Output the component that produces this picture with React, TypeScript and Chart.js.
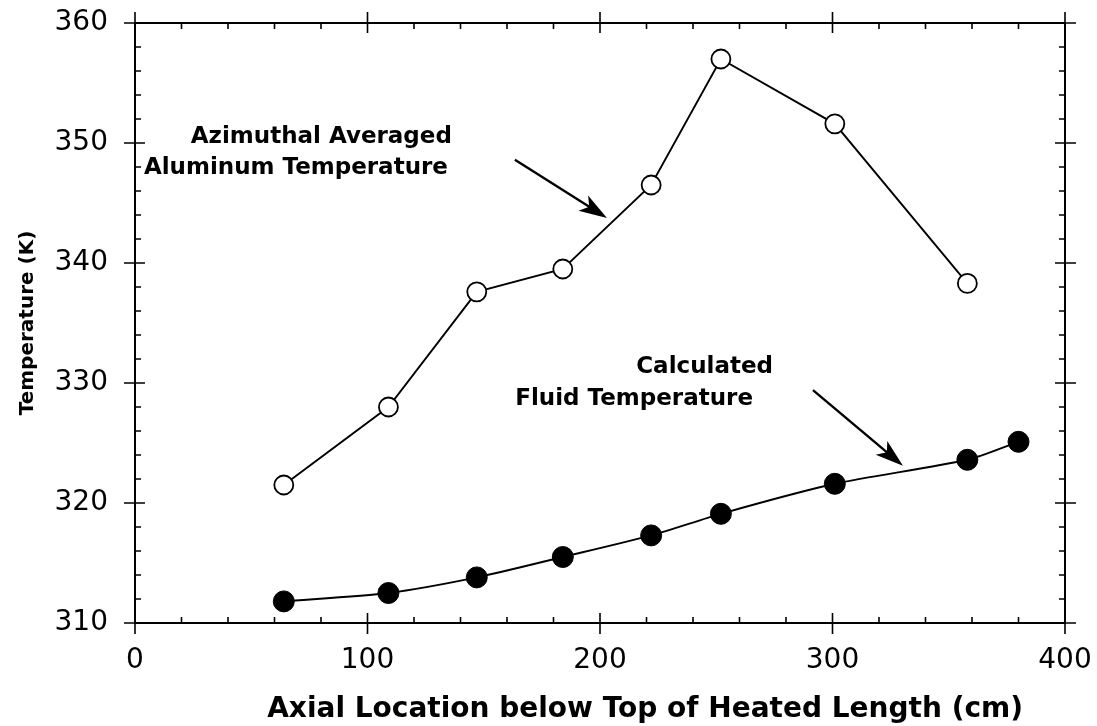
import React, { useEffect, useRef } from "react";
import { Chart, registerables } from "chart.js";

Chart.register(...registerables);

// ---- data ----
const aluminumAxialCm = [64, 109, 147, 184, 222, 252, 301, 358];
const aluminumTempK = [321.5, 328.0, 337.6, 339.5, 346.5, 357.0, 351.6, 338.3];
const fluidAxialCm = [64, 109, 147, 184, 222, 252, 301, 358, 380];
const fluidTempK = [311.8, 312.5, 313.8, 315.5, 317.3, 319.1, 321.6, 323.6, 325.1];

const xTickValues = [0, 100, 200, 300, 400];
const yTickValues = [310, 320, 330, 340, 350, 360];

const xTitle = "Axial Location below Top of Heated Length (cm)";
const yTitle = "Temperature (K)";

const aluminumLabelLines = ["Azimuthal Averaged", "Aluminum Temperature"];
const fluidLabelLines = ["Calculated", "Fluid Temperature"];

const FONT = "'DejaVu Sans', sans-serif";

// label anchors (data coords): [xRight, yBaseline]
const aluminumLabelAnchors = [
  [136.3, 350.0],
  [134.6, 347.45],
];
const fluidLabelAnchors = [
  [274.4, 330.85],
  [265.8, 328.2],
];
// arrows (data coords): [x0, y0, x1, y1]
const arrows = [
  [163.4, 348.6, 203.0, 343.75],
  [291.6, 329.4, 330.3, 323.1],
];
// x title centre (data x)
const xTitleCenter = 219.4;

const framePlugin = {
  id: "frameTicks",
  afterDatasetsDraw(chart: any) {
    const { ctx, chartArea: a, scales } = chart;
    const xs = scales.x;
    const ys = scales.y;
    ctx.save();
    ctx.strokeStyle = "#000";
    ctx.lineWidth = 2;
    ctx.strokeRect(a.left, a.top, a.right - a.left, a.bottom - a.top);
    ctx.lineWidth = 1.6;
    ctx.beginPath();
    for (let v = xs.min; v <= xs.max + 1e-6; v += 20) {
      const px = xs.getPixelForValue(v);
      const major = Math.abs(v % 100) < 1e-6;
      const inL = major ? 10 : 6;
      const outL = major ? 11 : 0;
      ctx.moveTo(px, a.bottom + outL);
      ctx.lineTo(px, a.bottom - inL);
      ctx.moveTo(px, a.top - outL);
      ctx.lineTo(px, a.top + inL);
    }
    for (let v = ys.min; v <= ys.max + 1e-6; v += 2) {
      const py = ys.getPixelForValue(v);
      const major = Math.abs(v % 10) < 1e-6;
      const inL = major ? 10 : 6;
      const outL = major ? 11 : 0;
      ctx.moveTo(a.left - outL, py);
      ctx.lineTo(a.left + inL, py);
      ctx.moveTo(a.right + outL, py);
      ctx.lineTo(a.right - inL, py);
    }
    ctx.stroke();

    ctx.fillStyle = "#000";
    ctx.textBaseline = "alphabetic";

    // x axis title
    ctx.font = `bold 28px ${FONT}`;
    ctx.textAlign = "center";
    ctx.fillText(xTitle, xs.getPixelForValue(xTitleCenter), a.bottom + 94);

    // annotation labels
    ctx.font = `bold 23px ${FONT}`;
    ctx.textAlign = "right";
    aluminumLabelLines.forEach((t, i) => {
      const [x, y] = aluminumLabelAnchors[i];
      ctx.fillText(t, xs.getPixelForValue(x), ys.getPixelForValue(y));
    });
    fluidLabelLines.forEach((t, i) => {
      const [x, y] = fluidLabelAnchors[i];
      ctx.fillText(t, xs.getPixelForValue(x), ys.getPixelForValue(y));
    });

    // arrows
    arrows.forEach(([x0, y0, x1, y1]) => {
      const p0x = xs.getPixelForValue(x0);
      const p0y = ys.getPixelForValue(y0);
      const p1x = xs.getPixelForValue(x1);
      const p1y = ys.getPixelForValue(y1);
      const ang = Math.atan2(p1y - p0y, p1x - p0x);
      const c = Math.cos(ang);
      const s = Math.sin(ang);
      const hl = 28;
      const hw = 9;
      const bx = p1x - hl * c;
      const by = p1y - hl * s;
      ctx.lineWidth = 2.4;
      ctx.beginPath();
      ctx.moveTo(p0x, p0y);
      ctx.lineTo(bx + 8 * c, by + 8 * s);
      ctx.stroke();
      ctx.beginPath();
      ctx.moveTo(p1x, p1y);
      ctx.lineTo(bx + hw * s, by - hw * c);
      ctx.lineTo(bx + 7 * c, by + 7 * s);
      ctx.lineTo(bx - hw * s, by + hw * c);
      ctx.closePath();
      ctx.fill();
    });
    ctx.restore();
  },
};

export default function App() {
  const ref = useRef<HTMLCanvasElement | null>(null);
  useEffect(() => {
    document.body.style.margin = "0";
    const canvas = ref.current;
    if (!canvas) return;
    const chart = new Chart(canvas, {
      type: "scatter",
      data: {
        datasets: [
          {
            label: "Azimuthal Averaged Aluminum Temperature",
            data: aluminumAxialCm.map((x, i) => ({ x, y: aluminumTempK[i] })),
            showLine: true,
            borderColor: "#000",
            borderWidth: 1.9,
            backgroundColor: "#fff",
            pointBackgroundColor: "#fff",
            pointBorderColor: "#000",
            pointBorderWidth: 1.8,
            pointRadius: 9.5,
            tension: 0,
          },
          {
            label: "Calculated Fluid Temperature",
            data: fluidAxialCm.map((x, i) => ({ x, y: fluidTempK[i] })),
            showLine: true,
            borderColor: "#000",
            borderWidth: 1.9,
            backgroundColor: "#000",
            pointBackgroundColor: "#000",
            pointBorderColor: "#000",
            pointBorderWidth: 1,
            pointRadius: 10.5,
            tension: 0.25,
          },
        ],
      },
      options: {
        animation: false,
        responsive: false,
        events: [],
        layout: { padding: { left: 0, top: 23, right: 32, bottom: 0 } },
        plugins: { legend: { display: false }, tooltip: { enabled: false } },
        scales: {
          x: {
            type: "linear",
            min: 0,
            max: 400,
            afterBuildTicks: (s: any) => {
              s.ticks = xTickValues.map((v) => ({ value: v }));
            },
            afterFit: (s: any) => {
              s.height = 103;
              s.paddingLeft = 0;
              s.paddingRight = 0;
            },
            grid: { display: false },
            border: { display: false },
            ticks: {
              color: "#000",
              font: { family: FONT, size: 28 },
              padding: 13,
              maxRotation: 0,
            },
            title: { display: false, text: xTitle },
          },
          y: {
            type: "linear",
            min: 310,
            max: 360,
            afterBuildTicks: (s: any) => {
              s.ticks = yTickValues.map((v) => ({ value: v }));
            },
            afterFit: (s: any) => {
              s.width = 135;
              s.paddingTop = 0;
              s.paddingBottom = 0;
            },
            grid: { display: false },
            border: { display: false },
            ticks: {
              color: "#000",
              font: { family: FONT, size: 28 },
              padding: 19,
            },
            title: {
              display: true,
              text: yTitle,
              color: "#000",
              font: { family: FONT, size: 20, weight: "bold" },
              padding: { top: 16, bottom: 0 },
            },
          },
        },
      },
      plugins: [framePlugin],
    });
    return () => chart.destroy();
  }, []);
  return (
    <div style={{ position: "absolute", left: 0, top: 0, width: 1097, height: 726, background: "#fff" }}>
      <canvas ref={ref} width={1097} height={726} style={{ width: 1097, height: 726 }} />
    </div>
  );
}
